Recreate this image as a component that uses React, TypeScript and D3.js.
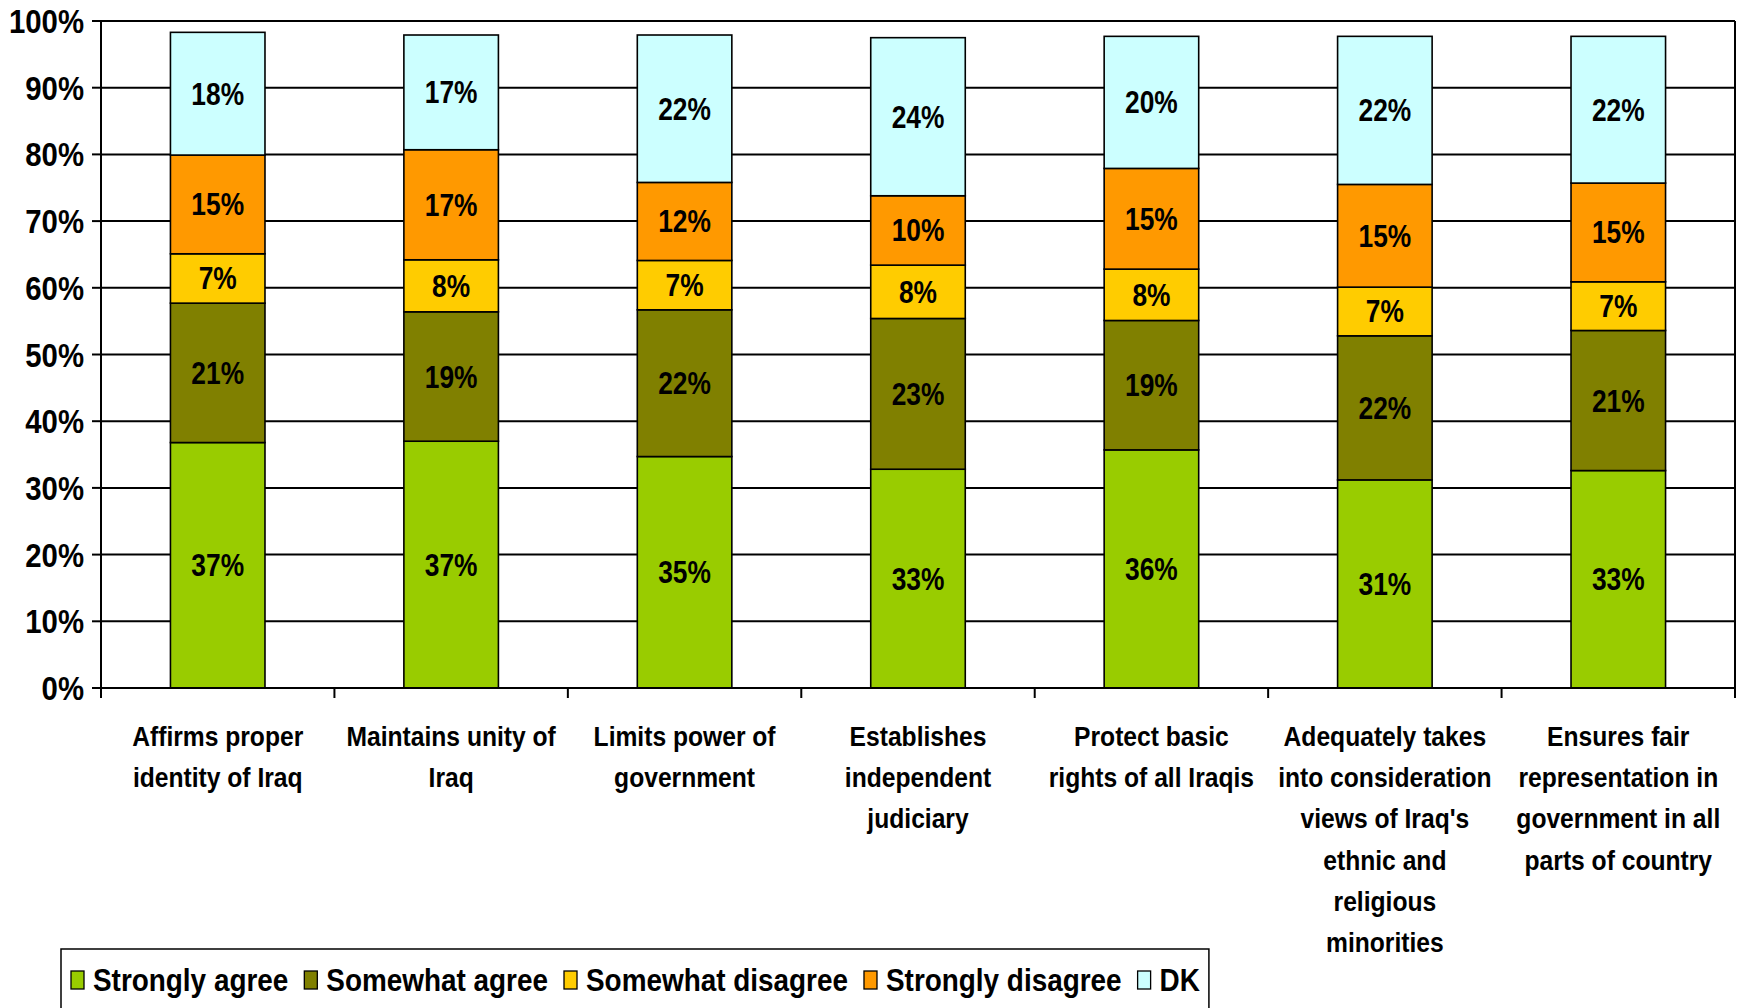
import React, { useEffect, useRef } from "react";
import * as d3 from "d3";

const categories: string[][] = [
  ["Affirms proper", "identity of Iraq"],
  ["Maintains unity of", "Iraq"],
  ["Limits power of", "government"],
  ["Establishes", "independent", "judiciary"],
  ["Protect basic", "rights of all Iraqis"],
  ["Adequately takes", "into consideration", "views of Iraq's", "ethnic and", "religious", "minorities"],
  ["Ensures fair", "representation in", "government in all", "parts of country"],
];

const seriesNames = ["Strongly agree", "Somewhat agree", "Somewhat disagree", "Strongly disagree", "DK"];
const seriesColors = ["#99CC00", "#808000", "#FFCC00", "#FF9900", "#CCFFFF"];

const stronglyAgree = [36.8, 37.0, 34.7, 32.8, 35.7, 31.2, 32.6];
const somewhatAgree = [20.9, 19.4, 22.0, 22.6, 19.4, 21.6, 21.0];
const somewhatDisagree = [7.4, 7.8, 7.4, 8.0, 7.7, 7.3, 7.3];
const stronglyDisagree = [14.8, 16.5, 11.7, 10.4, 15.1, 15.4, 14.8];
const dontKnow = [18.4, 17.2, 22.1, 23.7, 19.8, 22.2, 22.0];

const yTicks = [0, 10, 20, 30, 40, 50, 60, 70, 80, 90, 100];

const FONT = '"Liberation Sans", Arial, sans-serif';

function scaledText(parent: any, x: number, y: number, sx: number, size: number, anchor: string, txt: string) {
  const g = parent.append("g").attr("transform", `translate(${x},${y}) scale(${sx},1)`);
  const t = g.append("text")
    .attr("x", 0).attr("y", 0)
    .attr("text-anchor", anchor)
    .attr("font-family", FONT).attr("font-weight", "bold").attr("font-size", size)
    .attr("fill", "#000")
    .text(txt);
  return t;
}

export default function App() {
  const ref = useRef<SVGSVGElement>(null);

  useEffect(() => {
    const svg = d3.select(ref.current);
    svg.selectAll("*").remove();

    const W = 1741;
    const H = 1008;
    const left = 101, right = 1735, top = 21, bottom = 688;

    const allSeries = [stronglyAgree, somewhatAgree, somewhatDisagree, stronglyDisagree, dontKnow];
    const rows = categories.map((c, i) => {
      const r: any = { key: i };
      seriesNames.forEach((s, j) => (r[s] = allSeries[j][i]));
      return r;
    });
    const stacked = d3.stack().keys(seriesNames)(rows);

    const x = d3.scaleBand<number>().domain(d3.range(categories.length)).range([left, right]).padding(0);
    const y = d3.scaleLinear().domain([0, 100]).range([bottom, top]);
    const barW = x.step() * 0.405;
    const cxOf = (i: number) => (x(i) as number) + x.step() / 2;

    svg.append("rect").attr("width", W).attr("height", H).attr("fill", "#fff");

    // gridlines
    svg.append("g").selectAll("line").data(yTicks).join("line")
      .attr("x1", left).attr("x2", right)
      .attr("y1", (d) => y(d)).attr("y2", (d) => y(d))
      .attr("stroke", "#000").attr("stroke-width", 2);

    // y ticks
    svg.append("g").selectAll("line").data(yTicks).join("line")
      .attr("x1", left - 9).attr("x2", left)
      .attr("y1", (d) => y(d)).attr("y2", (d) => y(d))
      .attr("stroke", "#000").attr("stroke-width", 2);

    const yl = svg.append("g");
    yTicks.forEach((d) => scaledText(yl, left - 17, y(d) + 12, 0.89, 33, "end", d + "%"));

    // bars
    const g = svg.append("g");
    stacked.forEach((layer, j) => {
      g.append("g").selectAll("rect").data(layer).join("rect")
        .attr("x", (d, i) => cxOf(i) - barW / 2)
        .attr("width", barW)
        .attr("y", (d) => y(d[1]))
        .attr("height", (d) => y(d[0]) - y(d[1]))
        .attr("fill", seriesColors[j])
        .attr("stroke", "#000").attr("stroke-width", 1.6);
    });
    const bl = svg.append("g");
    stacked.forEach((layer) => {
      layer.forEach((d, i) => {
        scaledText(bl, cxOf(i), (y(d[0]) + y(d[1])) / 2 + 11, 0.85, 31, "middle", Math.round(d[1] - d[0]) + "%");
      });
    });

    // axes
    svg.append("line").attr("x1", left).attr("x2", left).attr("y1", top).attr("y2", bottom + 10)
      .attr("stroke", "#000").attr("stroke-width", 2);
    svg.append("line").attr("x1", right).attr("x2", right).attr("y1", top).attr("y2", bottom + 10)
      .attr("stroke", "#000").attr("stroke-width", 2);
    svg.append("line").attr("x1", left).attr("x2", right).attr("y1", bottom).attr("y2", bottom)
      .attr("stroke", "#000").attr("stroke-width", 2);
    svg.append("g").selectAll("line").data(d3.range(categories.length + 1)).join("line")
      .attr("x1", (i) => left + i * x.step()).attr("x2", (i) => left + i * x.step())
      .attr("y1", bottom).attr("y2", bottom + 10)
      .attr("stroke", "#000").attr("stroke-width", 2);

    // category labels
    const cl = svg.append("g");
    categories.forEach((lines, i) => {
      lines.forEach((ln, k) => {
        scaledText(cl, cxOf(i), 746 + k * 41.2, 0.88, 28, "middle", ln);
      });
    });

    // legend
    const lg = svg.append("g");
    const box = lg.append("rect").attr("x", 61).attr("y", 949).attr("height", 90)
      .attr("fill", "#fff").attr("stroke", "#000").attr("stroke-width", 1.5);
    let cx = 71;
    const sx = 0.9;
    seriesNames.forEach((name, j) => {
      lg.append("rect").attr("x", cx).attr("y", 971).attr("width", 13).attr("height", 18)
        .attr("fill", seriesColors[j]).attr("stroke", "#000").attr("stroke-width", 1.3);
      const t = scaledText(lg, cx + 22, 991, sx, 31, "start", name);
      const w = (t.node() as SVGTextElement).getComputedTextLength() * sx;
      cx = cx + 22 + w + (j < seriesNames.length - 1 ? 16 : 9);
    });
    box.attr("width", cx - 61);
  }, []);

  return (
    <svg
      ref={ref}
      width={1741}
      height={1008}
      style={{ position: "absolute", left: 0, top: 0, display: "block" }}
    />
  );
}
